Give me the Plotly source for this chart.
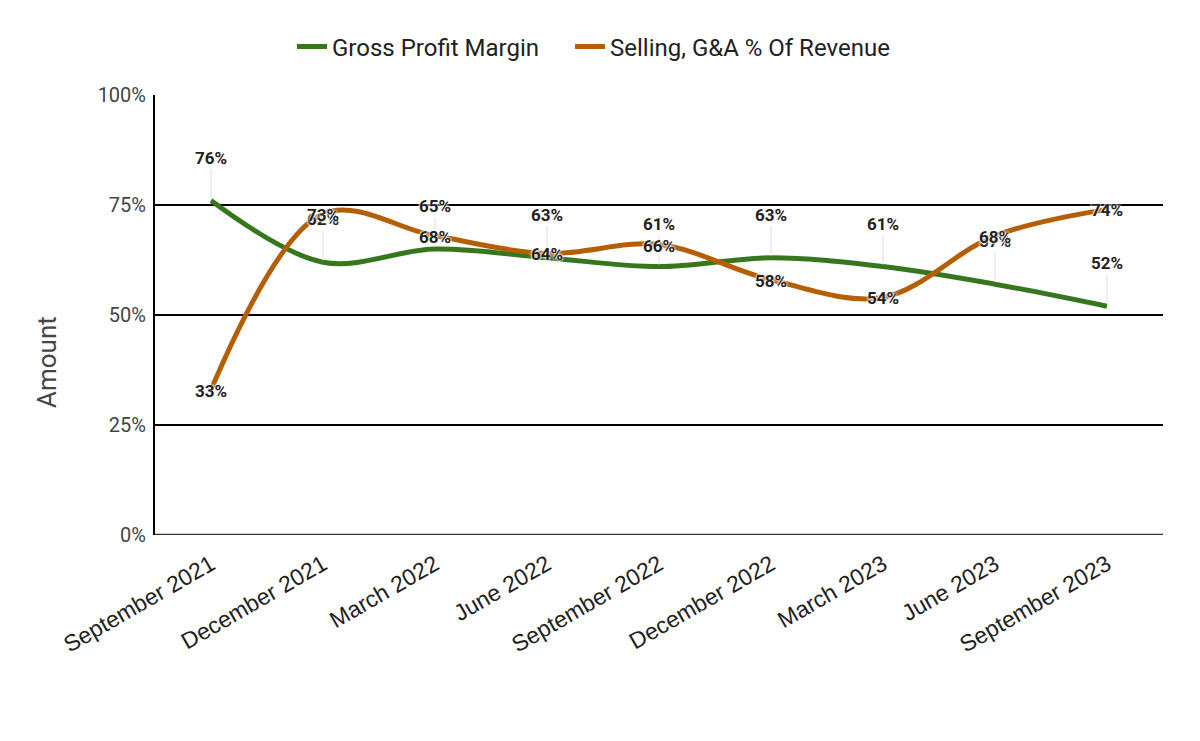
import plotly.graph_objects as go

categories = ["September 2021", "December 2021", "March 2022", "June 2022", "September 2022",
              "December 2022", "March 2023", "June 2023", "September 2023"]
gross_margin = [0.76, 0.62, 0.65, 0.63, 0.61, 0.63, 0.61, 0.57, 0.52]
sga_pct = [0.33, 0.73, 0.68, 0.64, 0.66, 0.58, 0.54, 0.68, 0.74]
y_ticks = [0, 0.25, 0.5, 0.75, 1.0]
y_tick_labels = ["0%", "25%", "50%", "75%", "100%"]

GREEN = "#38761d"
ORANGE = "#b45f06"

fig = go.Figure()
fig.add_trace(go.Scatter(x=categories, y=gross_margin, mode="lines", name="Gross Profit Margin",
                         line=dict(color=GREEN, width=5, shape="spline", smoothing=1.0),
                         hoverinfo="skip", legend="legend"))
fig.add_trace(go.Scatter(x=categories, y=sga_pct, mode="lines", name="Selling, G&A % Of Revenue",
                         line=dict(color=ORANGE, width=5, shape="spline", smoothing=1.0),
                         hoverinfo="skip", legend="legend2"))

label_font = dict(family="Roboto", size=17, color="#222222", weight="bold",
                  shadow="0px 0px 2px white, 0px 0px 2px white, 0px 0px 3px white")

annotations = []
for c, v in zip(categories, gross_margin):
    annotations.append(dict(x=c, y=v, xref="x", yref="y", text=f"{round(v*100)}%",
                            showarrow=True, arrowhead=0, arrowwidth=1, arrowcolor="#dddddd",
                            ax=0, ay=-43, standoff=2, font=label_font))
for c, v in zip(categories, sga_pct):
    annotations.append(dict(x=c, y=v, xref="x", yref="y", text=f"{round(v*100)}%",
                            showarrow=False, font=label_font, yshift=-1))

# y-axis title
annotations.append(dict(text="Amount", xref="paper", yref="paper",
                        x=(47 - 155) / 1008, y=(535 - 362) / 440, showarrow=False,
                        textangle=-90, xanchor="center", yanchor="middle",
                        font=dict(family="Roboto", size=26, color="#444444")))

legend_font = dict(family="Roboto", size=24, color="#222222")
fig.update_layout(
    width=1200, height=741,
    margin=dict(l=155, r=37, t=95, b=206),
    paper_bgcolor="white", plot_bgcolor="white",
    font=dict(family="Roboto", color="#444444"),
    showlegend=True,
    legend=dict(orientation="h", xref="container", yref="container", x=292 / 1200, xanchor="left",
                y=1 - 47 / 741, yanchor="middle", font=legend_font),
    legend2=dict(orientation="h", xref="container", yref="container", x=570 / 1200, xanchor="left",
                 y=1 - 47 / 741, yanchor="middle", font=legend_font),
    annotations=annotations,
    xaxis=dict(type="category", range=[-0.5, 8.5], showgrid=False, tickangle=-30,
               tickfont=dict(family="Liberation Sans", size=23, color="#222222"),
               showline=False, ticks="outside", ticklen=6, tickcolor="rgba(0,0,0,0)",
               zeroline=False),
    yaxis=dict(range=[0, 1], tickvals=y_ticks, ticktext=y_tick_labels, showgrid=True,
               gridcolor="#000000", gridwidth=2, zeroline=False,
               showline=True, linecolor="#000000", linewidth=2,
               ticks="outside", ticklen=3, tickcolor="rgba(0,0,0,0)",
               tickfont=dict(family="Roboto", size=20, color="#444444")),
)
fig.add_shape(type="line", xref="paper", yref="y", x0=0, x1=1, y0=0, y1=0,
              line=dict(color="#333333", width=2.5))

fig.write_html("out.html")
